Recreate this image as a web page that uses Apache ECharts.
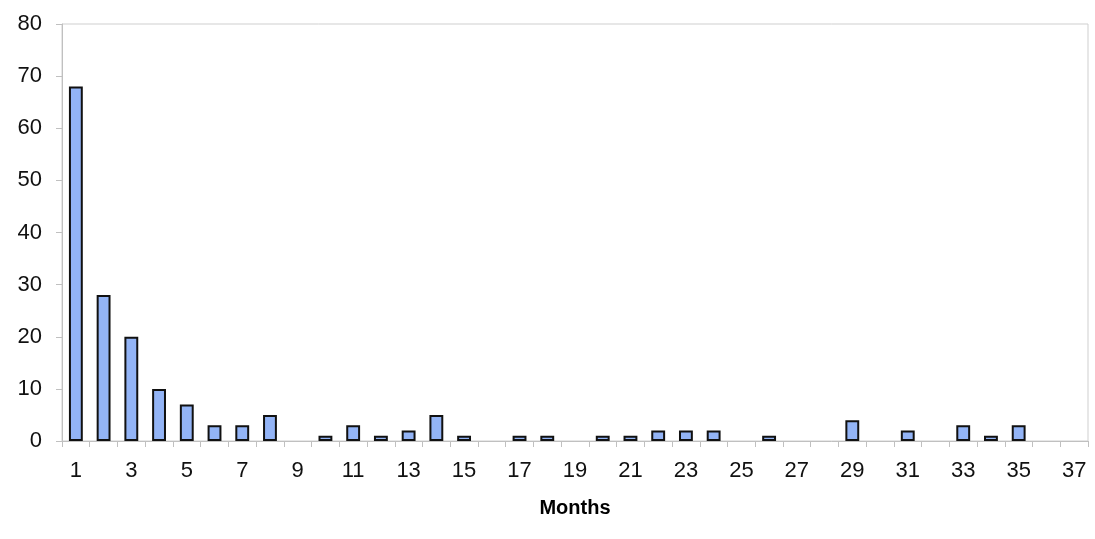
<!DOCTYPE html>
<html><head><meta charset="utf-8">
<script src="https://cdn.jsdelivr.net/npm/echarts@6/dist/echarts.min.js"></script>
<style>html,body{margin:0;padding:0;background:#fff}#c{width:1095px;height:539px}</style>
</head><body><div id="c"></div>
<script>
const months = ['1','2','3','4','5','6','7','8','9','10','11','12','13','14','15','16','17','18','19','20','21','22','23','24','25','26','27','28','29','30','31','32','33','34','35','36','37'];
const counts = [68,28,20,10,7,3,3,5,0,1,3,1,2,5,1,0,1,1,0,1,1,2,2,2,0,1,0,0,4,0,2,0,3,1,3,0,0];
const yTicks = [0,10,20,30,40,50,60,70,80];
const chart = echarts.init(document.getElementById('c'));
chart.setOption({
  animation:false,
  grid:{left:62,right:7,top:24,bottom:98,show:true,borderColor:'#cfcfcf',borderWidth:1},
  xAxis:{type:'category',data:months,name:'Months',nameLocation:'middle',nameGap:57,
    nameTextStyle:{fontFamily:'Liberation Sans',fontWeight:'bold',fontSize:20,color:'#000'},
    axisLine:{lineStyle:{color:'#c0c0c0'}},
    axisTick:{show:true,alignWithLabel:false,interval:0,length:6,lineStyle:{color:'#c0c0c0'}},
    axisLabel:{interval:1,fontFamily:'Liberation Sans',fontSize:22,color:'#111',margin:19}},
  yAxis:{type:'value',min:yTicks[0],max:yTicks[yTicks.length-1],interval:10,
    axisLine:{show:true,lineStyle:{color:'#c0c0c0'}},
    axisTick:{show:true,length:6,lineStyle:{color:'#c0c0c0'}},
    splitLine:{show:false},
    axisLabel:{fontFamily:'Liberation Sans',fontSize:22,color:'#111',margin:20}},
  series:[{type:'bar',data:counts.map(v => v === 0 ? null : v),barWidth:'50%',
    itemStyle:{color:'#93b4f6',borderColor:'#111',borderWidth:2}}]
});
</script></body></html>
